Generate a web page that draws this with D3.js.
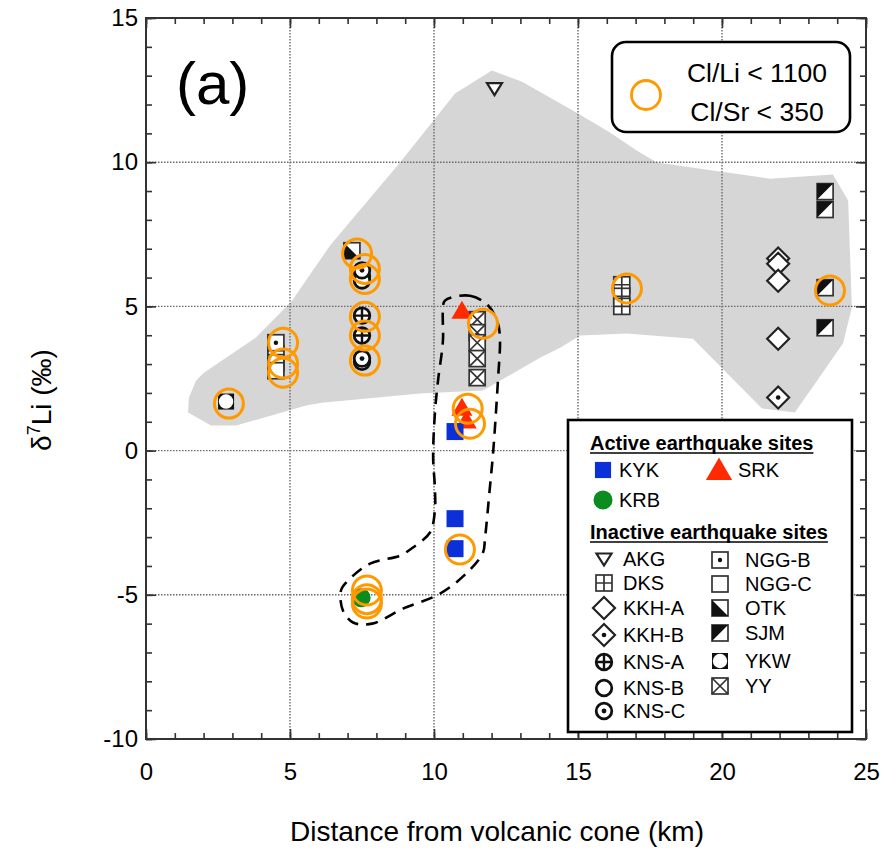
<!DOCTYPE html>
<html>
<head>
<meta charset="utf-8">
<script src="https://cdn.jsdelivr.net/npm/d3@7"></script>
<style>
  html, body { margin: 0; padding: 0; background: #fff; }
  svg { display: block; font-family: "Liberation Sans", Arial, Helvetica, sans-serif; }
</style>
</head>
<body>
<svg id="chart" width="884" height="852"></svg>
<script>
// ---- axis ticks ----
const xTicks = [0, 5, 10, 15, 20, 25];
const yTicks = [-10, -5, 0, 5, 10, 15];
const xGrid = [5, 10, 15, 20];
const yGrid = [-5, 0, 5, 10];

// ---- δ7Li (‰) vs distance from volcanic cone (km), per site ----
// active earthquake sites
const KYK = [[10.73, 0.66], [10.73, -2.36], [10.73, -3.40]];
const SRK = [[10.97, 4.85], [10.97, 1.49], [11.12, 1.04]];
const KRB = [[7.47, -5.10]];
// inactive earthquake sites
const AKG = [[12.10, 12.55]];
const DKS = [[16.52, 5.75], [16.52, 5.35], [16.52, 5.00]];
const KKH_A = [[21.95, 6.66], [21.95, 6.48], [21.95, 5.89], [21.95, 3.88]];
const KKH_B = [[21.95, 1.84]];
const KNS_A = [[7.50, 4.68], [7.50, 3.99]];
const KNS_B = [[7.50, 6.05], [7.50, 5.90], [7.50, 3.08]];
const KNS_C = [[7.50, 6.25], [7.50, 3.19]];
const NGG_B = [[4.51, 3.74]];
const NGG_C = [[4.51, 3.36], [4.51, 3.05], [4.51, 2.77]];
const OTK = [[7.15, 6.93]];
const SJM = [[23.58, 8.98], [23.58, 8.36], [23.58, 5.65], [23.58, 4.26]];
const YKW = [[2.78, 1.70]];
const YY = [[11.50, 4.54], [11.50, 4.09], [11.50, 3.74], [11.50, 3.19], [11.50, 2.53]];

// samples with Cl/Li < 1100 and Cl/Sr < 350
const lowClSamples = [
  [2.88, 1.63], [4.76, 3.74], [4.76, 3.02], [4.76, 2.70],
  [7.33, 6.83], [7.60, 6.30], [7.60, 5.95], [7.60, 4.64], [7.60, 3.99], [7.60, 3.12],
  [11.70, 4.40], [11.17, 1.45], [11.25, 0.93], [10.90, -3.43],
  [7.67, -4.85], [7.67, -5.15], [7.67, -5.30],
  [16.70, 5.62], [23.75, 5.55]
];

// envelope of the inactive sites (shaded)
const inactiveEnvelope = [
  [1.46, 1.32], [1.49, 1.84], [1.74, 2.43], [2.01, 2.70], [3.82, 3.92], [5.07, 5.20],
  [6.39, 7.11], [8.82, 9.99], [10.73, 12.38], [12.01, 13.18], [13.06, 12.79],
  [15.00, 11.69], [16.11, 11.03], [17.05, 10.40], [17.74, 9.99], [21.67, 9.43],
  [23.85, 9.57], [24.38, 8.67], [24.51, 4.96], [24.20, 3.71], [22.53, 1.32],
  [21.39, 1.46], [18.99, 3.88], [16.70, 4.06], [15.07, 3.99], [14.38, 3.57],
  [13.68, 3.22], [11.70, 2.08], [9.51, 1.98], [6.11, 1.66], [5.56, 1.56],
  [3.13, 0.87], [2.26, 0.87]
];

// envelope of the active sites (dashed)
const activeEnvelope = [
  [10.38, 5.20], [11.25, 5.37], [11.88, 5.03], [12.22, 4.40], [12.29, 3.88],
  [12.22, 2.43], [12.05, -0.10], [11.94, -1.28], [11.77, -3.05], [11.70, -3.54],
  [11.15, -4.23], [10.21, -4.96], [8.92, -5.48], [7.85, -6.00], [7.19, -5.96],
  [6.84, -5.55], [6.77, -4.85], [7.01, -4.51], [7.78, -3.92], [8.82, -3.64],
  [9.27, -3.36], [9.86, -2.84], [10.03, -2.08], [10.03, -1.28], [9.97, -0.24],
  [10.03, 1.28], [10.14, 2.43], [10.31, 3.81], [10.31, 4.85]
];

const activeLegend = ["KYK", "SRK", "KRB"];
const inactiveLeft = ["AKG", "DKS", "KKH-A", "KKH-B", "KNS-A", "KNS-B", "KNS-C"];
const inactiveRight = ["NGG-B", "NGG-C", "OTK", "SJM", "YKW", "YY"];

// ---- layout ----
const svg = d3.select("#chart");
const plot = { left: 146, right: 866, top: 18, bottom: 739 };
const x = d3.scaleLinear().domain([0, 25]).range([plot.left, plot.right]);
const y = d3.scaleLinear().domain([-10, 15]).range([plot.bottom, plot.top]);

const COLORS = { blue: "#0b30d8", red: "#ff2a00", green: "#0a8c1e", orange: "#ff9900", shade: "#d6d6d6" };

// ---- marker glyphs ----
function drawSymbol(g, type) {
  const s = 8;
  const sqStroke = { fill: "#fff", stroke: "#333", "stroke-width": 1.7 };
  const attrs = (sel, o) => { for (const k in o) sel.attr(k, o[k]); return sel; };
  const square = () => attrs(g.append("rect").attr("x", -s).attr("y", -s).attr("width", 2 * s).attr("height", 2 * s), sqStroke);
  const ring = () => g.append("circle").attr("r", 7.8).attr("fill", "#fff").attr("stroke", "#111").attr("stroke-width", 2.8);
  const diamond = () => g.append("path").attr("d", "M0,-11L11,0L0,11L-11,0Z").attr("fill", "#fff").attr("stroke", "#222").attr("stroke-width", 2.2);
  const dot = (r) => g.append("circle").attr("r", r).attr("fill", "#111");
  switch (type) {
    case "KYK":
      g.append("rect").attr("x", -8.5).attr("y", -8.5).attr("width", 17).attr("height", 17).attr("fill", COLORS.blue);
      break;
    case "SRK":
      g.append("path").attr("d", "M0,-10L10.5,8L-10.5,8Z").attr("fill", COLORS.red);
      break;
    case "KRB":
      g.append("circle").attr("r", 9.5).attr("fill", COLORS.green);
      break;
    case "AKG":
      g.append("path").attr("d", "M-7.5,-5.5L7.5,-5.5L0,6.5Z").attr("fill", "#fff").attr("stroke", "#222").attr("stroke-width", 2.2).attr("stroke-linejoin", "miter");
      break;
    case "DKS":
      square();
      g.append("path").attr("d", `M0,${-s}V${s}M${-s},0H${s}`).attr("stroke", "#333").attr("stroke-width", 1.7);
      break;
    case "KKH-A":
      diamond();
      break;
    case "KKH-B":
      diamond(); dot(2.3);
      break;
    case "KNS-A":
      ring();
      g.append("path").attr("d", "M0,-7.8V7.8M-7.8,0H7.8").attr("stroke", "#111").attr("stroke-width", 2.4);
      break;
    case "KNS-B":
      ring();
      break;
    case "KNS-C":
      ring(); dot(2.4);
      break;
    case "NGG-B":
      square(); dot(2.2);
      break;
    case "NGG-C":
      square();
      break;
    case "OTK":
      square();
      g.append("path").attr("d", `M${-s},${-s}L${-s},${s}L${s},${s}Z`).attr("fill", "#111");
      break;
    case "SJM":
      square();
      g.append("path").attr("d", `M${-s},${-s}L${s},${-s}L${-s},${s}Z`).attr("fill", "#111");
      break;
    case "YKW":
      g.append("rect").attr("x", -s).attr("y", -s).attr("width", 2 * s).attr("height", 2 * s).attr("fill", "#111");
      g.append("circle").attr("r", 7.2).attr("fill", "#fff");
      break;
    case "YY":
      square();
      g.append("path").attr("d", `M${-s},${-s}L${s},${s}M${s},${-s}L${-s},${s}`).attr("stroke", "#333").attr("stroke-width", 1.7);
      break;
  }
}

// ---- background, shaded envelope, grid ----
svg.append("rect").attr("width", 884).attr("height", 852).attr("fill", "#fff");

const clip = svg.append("clipPath").attr("id", "plotClip");
clip.append("rect").attr("x", plot.left).attr("y", plot.top)
  .attr("width", plot.right - plot.left).attr("height", plot.bottom - plot.top);

const lineGen = d3.line().x(d => x(d[0])).y(d => y(d[1]));

svg.append("path")
  .attr("d", lineGen(inactiveEnvelope) + "Z")
  .attr("fill", COLORS.shade)
  .attr("clip-path", "url(#plotClip)");

const grid = svg.append("g").attr("stroke", "#6a6a6a").attr("stroke-width", 1.4).attr("stroke-dasharray", "1.5,1.5");
grid.selectAll("line.gx").data(xGrid).join("line")
  .attr("x1", d => x(d)).attr("x2", d => x(d)).attr("y1", plot.top).attr("y2", plot.bottom);
grid.selectAll("line.gy").data(yGrid).join("line")
  .attr("y1", d => y(d)).attr("y2", d => y(d)).attr("x1", plot.left).attr("x2", plot.right);

// ---- dashed envelope of active sites ----
svg.append("path")
  .attr("d", d3.line().x(d => x(d[0])).y(d => y(d[1])).curve(d3.curveCatmullRomClosed.alpha(0.5))(activeEnvelope))
  .attr("fill", "none")
  .attr("stroke", "#000")
  .attr("stroke-width", 2.6)
  .attr("stroke-dasharray", "12,8");

// ---- data points ----
const series = [
  ["NGG-C", NGG_C], ["NGG-B", NGG_B], ["YKW", YKW], ["OTK", OTK],
  ["KNS-B", KNS_B], ["KNS-C", KNS_C], ["KNS-A", KNS_A],
  ["YY", YY], ["DKS", DKS], ["KKH-A", KKH_A], ["KKH-B", KKH_B], ["SJM", SJM], ["AKG", AKG],
  ["SRK", SRK], ["KYK", KYK], ["KRB", KRB]
];
const pts = svg.append("g").attr("clip-path", "url(#plotClip)");
series.forEach(([name, values]) => {
  pts.selectAll(null).data(values).join("g")
    .attr("transform", d => `translate(${x(d[0])},${y(d[1])})`)
    .each(function () { drawSymbol(d3.select(this), name); });
});

// ---- low Cl/Li and Cl/Sr highlight rings ----
svg.append("g").selectAll("circle").data(lowClSamples).join("circle")
  .attr("cx", d => x(d[0])).attr("cy", d => y(d[1])).attr("r", 14.5)
  .attr("fill", "none").attr("stroke", COLORS.orange).attr("stroke-width", 3);

// ---- frame and axes ----
svg.append("rect")
  .attr("x", plot.left).attr("y", plot.top)
  .attr("width", plot.right - plot.left).attr("height", plot.bottom - plot.top)
  .attr("fill", "none").attr("stroke", "#333").attr("stroke-width", 2);

const minorX = d3.range(0, 26);
const minorY = d3.range(-10, 16);
const styleAxis = g => {
  g.select(".domain").remove();
  g.selectAll(".tick line").attr("stroke", "#333").attr("stroke-width", 1.6);
  g.selectAll(".tick text").attr("fill", "#000").style("font-size", "24px")
    .style("font-family", '"Liberation Sans", Arial, sans-serif');
};

// minor ticks
svg.append("g").attr("transform", `translate(0,${plot.bottom})`)
  .call(d3.axisBottom(x).tickValues(minorX).tickSize(-6).tickFormat("")).call(styleAxis);
svg.append("g").attr("transform", `translate(0,${plot.top})`)
  .call(d3.axisTop(x).tickValues(minorX).tickSize(-6).tickFormat("")).call(styleAxis);
svg.append("g").attr("transform", `translate(${plot.left},0)`)
  .call(d3.axisLeft(y).tickValues(minorY).tickSize(-6).tickFormat("")).call(styleAxis);
svg.append("g").attr("transform", `translate(${plot.right},0)`)
  .call(d3.axisRight(y).tickValues(minorY).tickSize(-6).tickFormat("")).call(styleAxis);

// major ticks with labels
svg.append("g").attr("transform", `translate(0,${plot.bottom})`)
  .call(d3.axisBottom(x).tickValues(xTicks).tickSize(-10).tickPadding(24).tickFormat(d => String(d)))
  .call(styleAxis);
svg.append("g").attr("transform", `translate(${plot.left},0)`)
  .call(d3.axisLeft(y).tickValues(yTicks).tickSize(-10).tickPadding(8).tickFormat(d => String(d)))
  .call(styleAxis);
svg.append("g").attr("transform", `translate(0,${plot.top})`)
  .call(d3.axisTop(x).tickValues(xTicks).tickSize(-10).tickFormat("")).call(styleAxis);
svg.append("g").attr("transform", `translate(${plot.right},0)`)
  .call(d3.axisRight(y).tickValues(yTicks).tickSize(-10).tickFormat("")).call(styleAxis);

// axis titles
svg.append("text")
  .attr("x", 497).attr("y", 841)
  .attr("text-anchor", "middle").style("font-size", "28px")
  .text("Distance from volcanic cone (km)");

const yTitle = svg.append("text")
  .attr("transform", "translate(51,400) rotate(-90)")
  .attr("text-anchor", "middle").style("font-size", "28px");
yTitle.append("tspan").text("δ");
yTitle.append("tspan").attr("dy", -11).style("font-size", "18px").text("7");
yTitle.append("tspan").attr("dy", 11).text("Li (‰)");

// panel label
svg.append("text").attr("x", 176).attr("y", 104).style("font-size", "60px").text("(a)");

// ---- legend: highlight rings ----
const lg1 = svg.append("g");
lg1.append("rect").attr("x", 612).attr("y", 42).attr("width", 238).attr("height", 90).attr("rx", 14)
  .attr("fill", "#fff").attr("stroke", "#000").attr("stroke-width", 2.6);
lg1.append("circle").attr("cx", 646).attr("cy", 95).attr("r", 14.5)
  .attr("fill", "none").attr("stroke", COLORS.orange).attr("stroke-width", 2.8);
lg1.append("text").attr("x", 757).attr("y", 82).attr("text-anchor", "middle").style("font-size", "26.5px").text("Cl/Li < 1100");
lg1.append("text").attr("x", 757).attr("y", 121).attr("text-anchor", "middle").style("font-size", "26.5px").text("Cl/Sr < 350");

// ---- legend: sites ----
const lg2 = svg.append("g");
lg2.append("rect").attr("x", 568).attr("y", 420).attr("width", 284).attr("height", 312)
  .attr("fill", "#fff").attr("stroke", "#000").attr("stroke-width", 2.6);

const heading = (txt, yy) => {
  const t = lg2.append("text").attr("x", 590).attr("y", yy).style("font-size", "20px").style("font-weight", "bold").text(txt);
  const w = t.node().getComputedTextLength();
  lg2.append("line").attr("x1", 590).attr("x2", 590 + w).attr("y1", yy + 3).attr("y2", yy + 3)
    .attr("stroke", "#000").attr("stroke-width", 1.6);
};
heading("Active earthquake sites", 450);
heading("Inactive earthquake sites", 539);

const legendItem = (name, sx, sy, tx, k = 1) => {
  const g = lg2.append("g").attr("transform", `translate(${sx},${sy}) scale(${k})`);
  drawSymbol(g, name);
  lg2.append("text").attr("x", tx).attr("y", sy).attr("dy", "0.36em").style("font-size", "20px").text(name);
};
const activePos = { KYK: [603, 470, 619, 0.95], SRK: [719, 470, 738, 1.25], KRB: [603, 500, 619, 1] };
activeLegend.forEach(n => legendItem(n, ...activePos[n]));
const leftRows = [559, 583, 608, 635, 662, 688, 711];
inactiveLeft.forEach((n, i) => legendItem(n, 604, leftRows[i], 623));
const rightRows = [560, 584, 608, 633, 661, 686];
inactiveRight.forEach((n, i) => legendItem(n, 720, rightRows[i], 745));
</script>
</body>
</html>
